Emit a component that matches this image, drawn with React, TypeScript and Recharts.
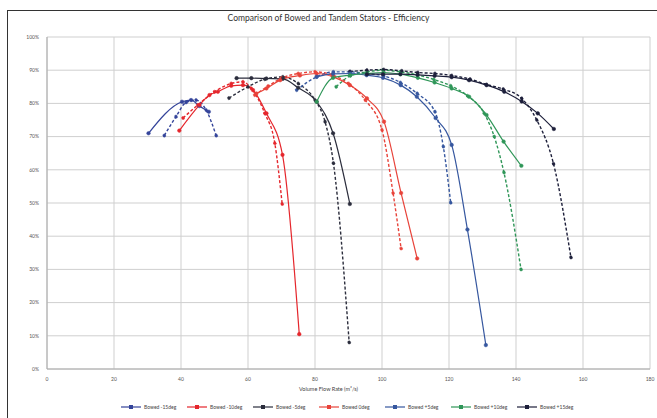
import React from 'react';
import { LineChart, Line, XAxis, YAxis, CartesianGrid } from 'recharts';

// x = volume flow rate (m3/s), y = efficiency (%)
const M15_SOLID_X = [30.3, 40.3, 43, 45.5, 48.3];
const M15_SOLID_Y = [71, 80.5, 81, 79.2, 77.5];
const M15_DASH_X = [35, 38.5, 41.5, 44.5, 47.5, 50.5];
const M15_DASH_Y = [70.3, 76, 80.3, 81, 78, 70.3];

const M10_SOLID_X = [39.5, 45.5, 48.5, 51, 55, 58.5, 61.5, 65.5, 70.3, 75.3];
const M10_SOLID_Y = [71.8, 79.5, 82.5, 83.5, 85.3, 85.5, 84, 77, 64.5, 10.5];
const M10_DASH_X = [40.6, 45, 50, 55, 58.5, 61, 65, 68, 70.2];
const M10_DASH_Y = [75.6, 79.5, 83.5, 86, 86.5, 84.5, 77, 68, 49.7];

const M5_SOLID_X = [56.6, 61, 65.5, 70.4, 75, 80.5, 85.4, 90.4];
const M5_SOLID_Y = [87.6, 87.6, 87.5, 87.4, 84.7, 80.5, 71, 49.7];
const M5_DASH_X = [54.3, 60, 65, 70.4, 75, 80, 83, 85.5, 90.2];
const M5_DASH_Y = [81.6, 85, 87.3, 88, 86, 81, 74.5, 62, 8];

const Z0_SOLID_X = [62.5, 65.5, 69.6, 75.5, 80.5, 85.4, 90.4, 95.5, 100.6, 105.7, 110.5];
const Z0_SOLID_Y = [83, 84.5, 87, 88.4, 89, 88, 85.5, 81.5, 74.5, 53, 33.3];
const Z0_DASH_X = [62, 66, 70, 75, 80, 85, 90, 95, 100, 103.3, 105.7];
const Z0_DASH_Y = [82.5, 85.2, 87.6, 89, 89.5, 88.6, 86, 81, 72, 53, 36.3];

const P5_SOLID_X = [80.5, 85.4, 90.5, 95.4, 100.3, 105.6, 110.4, 116, 120.8, 125.5, 131];
const P5_SOLID_Y = [88, 88.9, 89, 88.5, 87.7, 85.5, 82, 75.6, 67.5, 42, 7.2];
const P5_DASH_X = [74.5, 80.5, 85.5, 90.5, 95.5, 100.5, 105.5, 110.5, 115.8, 118.3, 120.5];
const P5_DASH_Y = [84, 88, 89.5, 89.5, 89, 88.3, 86.3, 83, 77.5, 67, 50.1];

const P10_SOLID_X = [80.5, 85.4, 90.5, 95.5, 100.5, 105.5, 110.7, 115.7, 120.8, 126, 131.2, 136.3, 141.6];
const P10_SOLID_Y = [80.5, 87.7, 88.5, 89, 89.3, 88.8, 87.7, 86.3, 84.5, 82, 76.5, 68.5, 61.2];
const P10_DASH_X = [86.3, 90.5, 95.5, 100.3, 105.5, 110.5, 115.5, 120.5, 125.5, 130.5, 133.5, 136.4, 141.5];
const P10_DASH_Y = [85, 88.3, 89.5, 90, 89.5, 88.6, 87.2, 85.3, 82.3, 77, 70, 59.2, 30];

const P15_SOLID_X = [95.5, 100.3, 105.5, 110.6, 115.7, 120.8, 126, 131.2, 136.5, 141.7, 146.5, 151.3];
const P15_SOLID_Y = [88.8, 88.8, 88.8, 88.6, 88.3, 87.9, 87, 85.5, 83.5, 80.6, 77, 72.3];
const P15_DASH_X = [90.4, 95.5, 100.5, 105.9, 110.7, 115.8, 120.8, 126.3, 131.2, 136.2, 141.7, 146.2, 151.2, 156.4];
const P15_DASH_Y = [89.6, 90, 90.2, 89.8, 89.3, 89, 88.4, 87.3, 85.7, 84.3, 81.5, 75, 61.8, 33.6];

const X_TICKS = [0, 20, 40, 60, 80, 100, 120, 140, 160, 180];
const Y_TICKS = [0, 10, 20, 30, 40, 50, 60, 70, 80, 90, 100];

const LEGEND_LABELS = ['Bowed -15deg', 'Bowed -10deg', 'Bowed -5deg', 'Bowed 0deg', 'Bowed +5deg', 'Bowed +10deg', 'Bowed +15deg'];
const COLORS = ['#34449a', '#e5262c', '#2b2d3c', '#e8433a', '#36579f', '#2f9658', '#1d1f3a'];

const toPoints = (xs: number[], ys: number[]) => xs.map((x, i) => ({ x, y: ys[i] }));

const SERIES = [
  { name: 'm15', solid: toPoints(M15_SOLID_X, M15_SOLID_Y), dash: toPoints(M15_DASH_X, M15_DASH_Y) },
  { name: 'm10', solid: toPoints(M10_SOLID_X, M10_SOLID_Y), dash: toPoints(M10_DASH_X, M10_DASH_Y) },
  { name: 'm5', solid: toPoints(M5_SOLID_X, M5_SOLID_Y), dash: toPoints(M5_DASH_X, M5_DASH_Y) },
  { name: 'z0', solid: toPoints(Z0_SOLID_X, Z0_SOLID_Y), dash: toPoints(Z0_DASH_X, Z0_DASH_Y) },
  { name: 'p5', solid: toPoints(P5_SOLID_X, P5_SOLID_Y), dash: toPoints(P5_DASH_X, P5_DASH_Y) },
  { name: 'p10', solid: toPoints(P10_SOLID_X, P10_SOLID_Y), dash: toPoints(P10_DASH_X, P10_DASH_Y) },
  { name: 'p15', solid: toPoints(P15_SOLID_X, P15_SOLID_Y), dash: toPoints(P15_DASH_X, P15_DASH_Y) }
];

const FONT = 'Lato, "Open Sans", sans-serif';

export default function App() {
  return (
    <div style={{ position: 'absolute', left: 0, top: 0, width: 657, height: 418, background: '#fff', fontFamily: FONT, overflow: 'hidden' }}>
      <div style={{ position: 'absolute', left: 7, top: 10, width: 660, height: 420, borderLeft: '1.5px solid #333', borderTop: '1.5px solid #333' }} />
      <div style={{ position: 'absolute', top: 13, width: 657, textAlign: 'center', fontSize: 8.5, color: '#333' }}>
        Comparison of Bowed and Tandem Stators - Efficiency
      </div>
      <LineChart width={657} height={418} data={[]} margin={{ top: 37, right: 7, left: 27, bottom: 29 }}>
        <CartesianGrid stroke="#cfcfcf" strokeWidth={1} />
        <XAxis
          dataKey="x"
          type="number"
          domain={[0, 180]}
          ticks={X_TICKS}
          height={20}
          tick={{ fontSize: 5, fill: '#555', fontFamily: FONT }}
          tickLine={false}
          stroke="#aaa"
          allowDataOverflow
        />
        <YAxis
          type="number"
          domain={[0, 100]}
          ticks={Y_TICKS}
          width={20}
          tickFormatter={(v) => `${v}%`}
          tick={{ fontSize: 5, fill: '#555', fontFamily: FONT }}
          tickLine={false}
          stroke="#aaa"
        />
        {SERIES.map((s, i) => (
          <Line
            key={s.name + '-dash'}
            data={s.dash}
            dataKey="y"
            type="monotone"
            stroke={COLORS[i]}
            strokeWidth={1.4}
            strokeDasharray="3 2"
            dot={{ r: 1.6, fill: COLORS[i], stroke: COLORS[i], strokeWidth: 0.5 }}
            isAnimationActive={false}
          />
        ))}
        {SERIES.map((s, i) => (
          <Line
            key={s.name + '-solid'}
            data={s.solid}
            dataKey="y"
            type="monotone"
            stroke={COLORS[i]}
            strokeWidth={1.2}
            dot={{ r: 1.8, fill: COLORS[i], stroke: COLORS[i], strokeWidth: 0.5 }}
            isAnimationActive={false}
          />
        ))}
      </LineChart>
      <div style={{ position: 'absolute', top: 386, width: 657, left: 0, textAlign: 'center', fontSize: 5.5, color: '#444' }}>
        Volume Flow Rate (m³/s)
      </div>
      <div style={{ position: 'absolute', top: 404, left: 121, display: 'flex', fontSize: 5, color: '#444', alignItems: 'center' }}>
        {LEGEND_LABELS.map((label, i) => (
          <div key={label} style={{ display: 'flex', alignItems: 'center', width: 66, flexShrink: 0 }}>
            <svg width={20} height={6} style={{ flexShrink: 0, marginRight: 3 }}>
              <line x1={0} y1={3} x2={20} y2={3} stroke={COLORS[i]} strokeWidth={1.2} />
              <rect x={8} y={1} width={4} height={4} fill={COLORS[i]} />
            </svg>
            <span style={{ whiteSpace: 'nowrap' }}>{label}</span>
          </div>
        ))}
      </div>
    </div>
  );
}
